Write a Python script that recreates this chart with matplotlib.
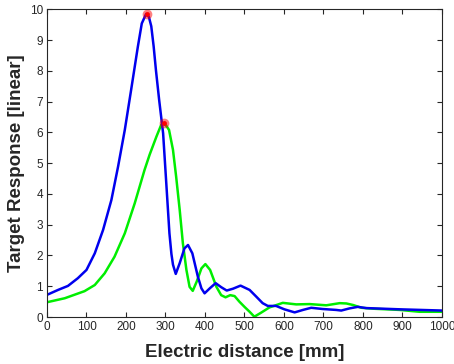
import matplotlib
matplotlib.use("Agg")
import matplotlib.pyplot as plt
import numpy as np

plt.rcParams['font.family'] = ['Liberation Sans', 'DejaVu Sans']

# blue trace (electric distance mm, response)
blue_x = [0, 28, 53, 78, 100, 121, 142, 163, 180, 197, 213, 230, 240, 251, 258,
          264, 270, 276, 284, 294, 302, 310, 315, 319, 326, 336, 348, 357, 368, 382,
          391, 399, 412, 427, 441, 455, 471, 490, 513, 530, 546, 559, 580, 601,
          627, 648, 669, 698, 732, 745, 766, 787, 808, 893, 1000]
blue_y = [0.72, 0.88, 1.01, 1.26, 1.53, 2.07, 2.83, 3.80, 4.89, 6.08, 7.38, 8.78, 9.54, 9.85, 9.75,
          9.45, 8.8, 8.0, 7.05, 5.97, 4.35, 2.72, 2.05, 1.70, 1.40, 1.75, 2.23, 2.34, 2.07, 1.31,
          0.93, 0.77, 0.93, 1.10, 0.97, 0.86, 0.92, 1.02, 0.88, 0.66, 0.45, 0.36, 0.36, 0.25,
          0.15, 0.23, 0.30, 0.26, 0.23, 0.21, 0.28, 0.33, 0.29, 0.25, 0.21]

# green trace
green_x = [0, 45, 95, 121, 146, 171, 197, 222, 247, 260, 277, 289, 298, 309, 319,
           327, 336, 344, 353, 361, 369, 379, 391, 401, 413, 429, 441, 452, 464,
           475, 487, 500, 513, 525, 542, 563, 597, 631, 665, 707, 741, 758, 775,
           796, 825, 893, 943, 1000]
green_y = [0.48, 0.61, 0.84, 1.04, 1.42, 1.96, 2.72, 3.69, 4.78, 5.28, 5.86, 6.24, 6.29, 6.08, 5.43,
           4.56, 3.48, 2.40, 1.53, 0.98, 0.85, 1.15, 1.58, 1.72, 1.53, 0.98, 0.71, 0.64, 0.71,
           0.68, 0.50, 0.33, 0.17, 0.01, 0.14, 0.31, 0.46, 0.41, 0.42, 0.38, 0.45, 0.44, 0.39,
           0.30, 0.27, 0.23, 0.17, 0.17]

peaks_x = [252, 296]
peaks_y = [9.85, 6.30]

fig = plt.figure(figsize=(4.54, 3.64), dpi=100)
ax = fig.add_axes([0.1035, 0.1291, 0.870, 0.8454])

ax.plot(green_x, green_y, color='#00ee00', lw=1.8)
ax.plot(blue_x, blue_y, color='#0000ee', lw=1.8)
ax.plot(peaks_x, peaks_y, 'o', color='red', ms=7, alpha=0.5, mec='none')
ax.plot(peaks_x, peaks_y, 'o', color='red', ms=3.5, mec='none')

ax.set_xlim(0, 1000)
ax.set_ylim(0, 10)
ax.set_xticks(np.arange(0, 1001, 100))
ax.set_yticks(np.arange(0, 11, 1))
ax.tick_params(direction='in', top=True, right=True, length=3.5, width=0.8,
               labelsize=8.5, labelcolor='#262626', color='#262626', pad=3)
for s in ax.spines.values():
    s.set_color('#262626')
    s.set_linewidth(0.8)

ax.set_xlabel('Electric distance [mm]', fontsize=13.5, fontweight='bold', color='#262626', labelpad=8)
ax.set_ylabel('Target Response [linear]', fontsize=13.5, fontweight='bold', color='#262626', labelpad=3)

fig.savefig('out.png', dpi=100)
